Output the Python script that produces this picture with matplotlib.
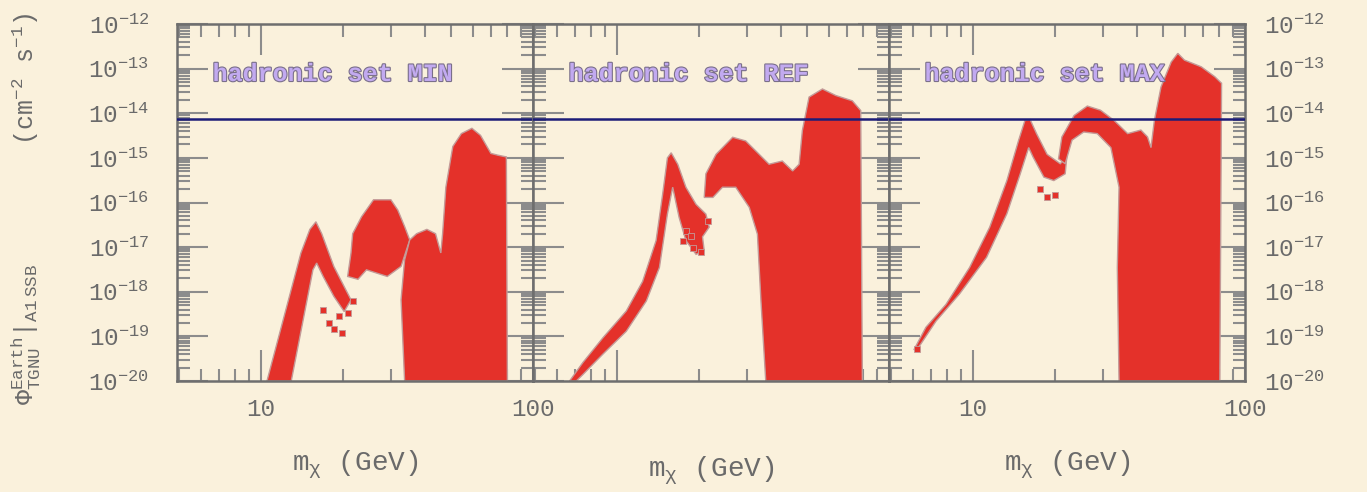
import numpy as np
import matplotlib.pyplot as plt
import matplotlib.patheffects as pe
from matplotlib.ticker import FixedLocator, NullFormatter, FuncFormatter

plt.rcParams['mathtext.fontset'] = 'custom'
plt.rcParams['mathtext.rm'] = 'Liberation Mono'
plt.rcParams['mathtext.it'] = 'Liberation Mono:italic'
plt.rcParams['mathtext.bf'] = 'Liberation Mono:bold'
plt.rcParams['font.family'] = ['Liberation Mono', 'DejaVu Sans']

# upper limit on the flux (horizontal line)
flux_limit = 7.6e-15

# ---- hadronic set MIN ----
min_peak_mass = [10.5, 14.0, 15.1, 15.9, 16.7, 18.5, 20.2, 21.4, 20.2, 18.5, 16.9, 16.0, 15.5, 12.9]
min_peak_flux = [1e-20, 7.4e-18, 2.5e-17, 3.7e-17, 2.0e-17, 3.7e-18, 1.3e-18, 6.6e-19,
                 3.6e-19, 7.9e-19, 2.2e-18, 4.4e-18, 3.1e-18, 1e-20]
min_dots_mass = [17.7, 19.9, 18.5, 16.9, 21.7, 20.8, 19.3]
min_dots_flux = [2.0e-19, 1.2e-19, 1.5e-19, 4.0e-19, 6.2e-19, 3.4e-19, 2.8e-19]
min_band_mass = [20.8, 21.4, 21.7, 23.4, 25.9, 30.0, 31.8, 33.7, 35.2, 32.7, 29.1, 26.7, 24.4, 22.7]
min_band_flux = [2.2e-18, 7.4e-18, 2.0e-17, 4.8e-17, 1.15e-16, 1.15e-16, 6.8e-17, 2.9e-17,
                 1.45e-17, 3.7e-18, 2.2e-18, 2.6e-18, 3.1e-18, 1.9e-18]
min_bulk_mass = [33.7, 32.7, 33.7, 35.2, 37.3, 40.7, 43.8, 45.8, 46.5, 47.8, 50.7, 54.5,
                 59.6, 64.1, 70.0, 74.2, 79.8, 80.5]
min_bulk_flux = [1e-20, 6.6e-19, 5.2e-18, 1.45e-17, 2.0e-17, 2.5e-17, 2.0e-17, 7.4e-18,
                 2.0e-17, 2.2e-16, 1.8e-15, 3.5e-15, 4.6e-15, 3.2e-15, 1.26e-15, 1.15e-15,
                 1.05e-15, 1e-20]

# ---- hadronic set REF ----
ref_peak_mass = [6.68, 7.48, 8.86, 10.8, 12.4, 13.9, 14.7, 15.3, 15.8, 16.7, 17.9, 19.5, 21.2,
                 21.8, 20.6, 20.9, 19.5, 17.9, 16.9, 16.0, 15.3, 14.3, 12.8, 10.8, 8.86, 7.48, 7.07]
ref_peak_flux = [1e-20, 2.6e-20, 9.3e-20, 3.7e-19, 1.7e-18, 1.4e-17, 1.55e-16, 1.0e-15,
                 1.3e-15, 7.2e-16, 2.2e-16, 9.1e-17, 5.5e-17, 2.8e-17, 1.7e-17, 8.3e-18,
                 6.9e-18, 1.4e-17, 4.6e-17, 2.2e-16, 5.5e-17, 3.5e-18, 6.2e-19, 1.3e-19,
                 4.0e-20, 1.4e-20, 1e-20]
ref_dots_mass = [17.9, 19.0, 20.3, 21.5, 17.4, 18.7]
ref_dots_flux = [2.3e-17, 9.8e-18, 7.6e-18, 3.9e-17, 1.4e-17, 1.8e-17]
ref_bulk_mass = [35.2, 33.8, 32.8, 30.6, 27.3, 24.4, 22.5, 20.9, 21.2, 23.1, 26.6, 29.7, 33.3,
                 36.2, 40.5, 44.2, 46.7, 48.0, 50.8, 56.9, 63.7, 73.3, 78.7, 79.8]
ref_bulk_flux = [1e-20, 6.2e-19, 1.95e-17, 7.8e-17, 2.2e-16, 2.2e-16, 1.3e-16, 1.3e-16,
                 4.4e-16, 1.2e-15, 2.9e-15, 2.4e-15, 1.2e-15, 7.2e-16, 8.5e-16, 5.1e-16,
                 7.2e-16, 4.1e-15, 2.3e-14, 3.5e-14, 2.5e-14, 1.9e-14, 1.15e-14, 1e-20]

# ---- hadronic set MAX ----
max_peak_mass = [6.06, 6.70, 7.94, 9.70, 11.5, 13.3, 14.7, 15.5, 16.2, 17.1, 18.7, 20.9, 22.1,
                 21.8, 19.8, 18.2, 16.6, 16.0, 14.9, 13.3, 11.2, 8.9, 7.3, 6.4, 6.15]
max_peak_flux = [5.1e-20, 1.6e-19, 5.2e-19, 3.5e-18, 2.8e-17, 3.1e-16, 2.5e-15, 6.9e-15,
                 7.2e-15, 3.5e-15, 1.2e-15, 7.4e-16, 1.05e-15, 4.4e-16, 3.1e-16, 3.7e-16,
                 1.05e-15, 1.7e-15, 4.4e-16, 5.6e-17, 5.9e-18, 8.9e-19, 2.2e-19, 6.6e-20, 4.7e-20]
max_dots_mass = [6.2, 17.6, 18.7, 20.0]
max_dots_flux = [5.1e-20, 2.0e-16, 1.3e-16, 1.45e-16]
max_bulk_mass = [34.4, 33.9, 34.4, 32.1, 28.6, 25.5, 23.1, 21.8, 20.6, 21.2, 23.5, 26.3, 29.4,
                 33.0, 37.0, 41.4, 43.8, 45.1, 46.4, 49.1, 53.5, 56.6, 59.9, 69.0, 77.4, 82.0, 80.8]
max_bulk_flux = [1e-20, 3.5e-18, 2.2e-16, 1.7e-15, 3.5e-15, 3.8e-15, 2.5e-15, 7.4e-16,
                 9.5e-16, 2.95e-15, 8.9e-15, 1.45e-14, 1.17e-14, 6.9e-15, 3.5e-15, 4.2e-15,
                 2.95e-15, 1.7e-15, 6.9e-15, 3.9e-14, 1.4e-13, 2.2e-13, 1.55e-13, 1.1e-13,
                 6.6e-14, 4.7e-14, 1e-20]

panels = [
    ('hadronic set MIN', [(min_peak_mass, min_peak_flux), (min_band_mass, min_band_flux),
                          (min_bulk_mass, min_bulk_flux)], (min_dots_mass, min_dots_flux)),
    ('hadronic set REF', [(ref_peak_mass, ref_peak_flux), (ref_bulk_mass, ref_bulk_flux)],
     (ref_dots_mass, ref_dots_flux)),
    ('hadronic set MAX', [(max_peak_mass, max_peak_flux), (max_bulk_mass, max_bulk_flux)],
     (max_dots_mass, max_dots_flux)),
]

bg = '#faf1dc'
red = '#e4312a'
edge = '#c49a98'
axis_grey = '#6e6e6e'
tick_grey = '#8c8c8c'
text_grey = '#6a6a6a'

decades = np.arange(-20, -11)
y_major = 10.0 ** decades
y_minor = [m * 10.0 ** d for d in decades[:-1] for m in range(2, 10)]

fig = plt.figure(figsize=(13.67, 4.92), dpi=100, facecolor=bg)
lefts = [177 / 1367, 533 / 1367, 889 / 1367]
width = 356 / 1367
bottom = 1 - 381 / 492
height = 357 / 492


def exp_label(v, pos):
    e = int(round(np.log10(v)))
    return r'$\mathrm{10^{%d}}$' % e


for i, (title, polys, dots) in enumerate(panels):
    ax = fig.add_axes([lefts[i], bottom, width, height])
    ax.set_facecolor(bg)
    ax.set_xscale('log')
    ax.set_yscale('log')
    ax.set_xlim(4.9, 100)
    ax.set_ylim(1e-20, 1e-12)

    for mass, flux in polys:
        ax.fill(mass, flux, facecolor=red, edgecolor=edge, lw=1.0, zorder=2)
    ax.scatter(dots[0], dots[1], s=14, marker='s', color=red, edgecolor=edge,
               linewidths=0.6, zorder=2)

    ax.axhline(flux_limit, color='#1c1c78', lw=1.8, zorder=3)

    ax.text(0.1, 0.86, title, transform=ax.transAxes, fontsize=18, fontweight='bold',
            color='#c2aaf0', family='Liberation Mono', va='center', zorder=4,
            path_effects=[pe.withStroke(linewidth=1.6, foreground='#7a6f8a')])

    for s in ax.spines.values():
        s.set_color(axis_grey)
        s.set_linewidth(1.8)
    ax.tick_params(which='both', direction='in', top=True, right=True, colors=tick_grey,
                   width=1.5)
    ax.tick_params(which='major', length=22)
    ax.tick_params(which='minor', length=9)
    ax.yaxis.set_major_locator(FixedLocator(y_major))
    ax.yaxis.set_minor_locator(FixedLocator(y_minor))
    ax.yaxis.set_minor_formatter(NullFormatter())
    ax.xaxis.set_minor_formatter(NullFormatter())
    ax.tick_params(axis='both', labelcolor=text_grey, labelsize=17.5)
    ax.xaxis.set_major_formatter(FuncFormatter(lambda v, p: '%d' % round(v)))
    ax.tick_params(axis='x', pad=12)

    if i == 0:
        ax.yaxis.set_major_formatter(FuncFormatter(exp_label))
        ax.tick_params(axis='y', pad=20)
    elif i == 2:
        ax.yaxis.set_major_formatter(FuncFormatter(exp_label))
        ax.tick_params(axis='y', labelleft=False, labelright=True, pad=14)
    else:
        ax.tick_params(axis='both', labelleft=False, labelbottom=False)

    ax.set_xlabel(r'$\mathrm{m_\chi}$ (GeV)', fontsize=20, color=text_grey,
                  labelpad=20 if i != 1 else 50)

fig.text(0.019, 0.575,
         r'$\mathrm{\Phi^{Earth}_{TGNU}|_{A1\ SSB}}$        (cm$^{-2}$ s$^{-1}$)',
         rotation=90, fontsize=18, color=text_grey, ha='center', va='center')

fig.savefig('out.png', dpi=100, facecolor=bg)
